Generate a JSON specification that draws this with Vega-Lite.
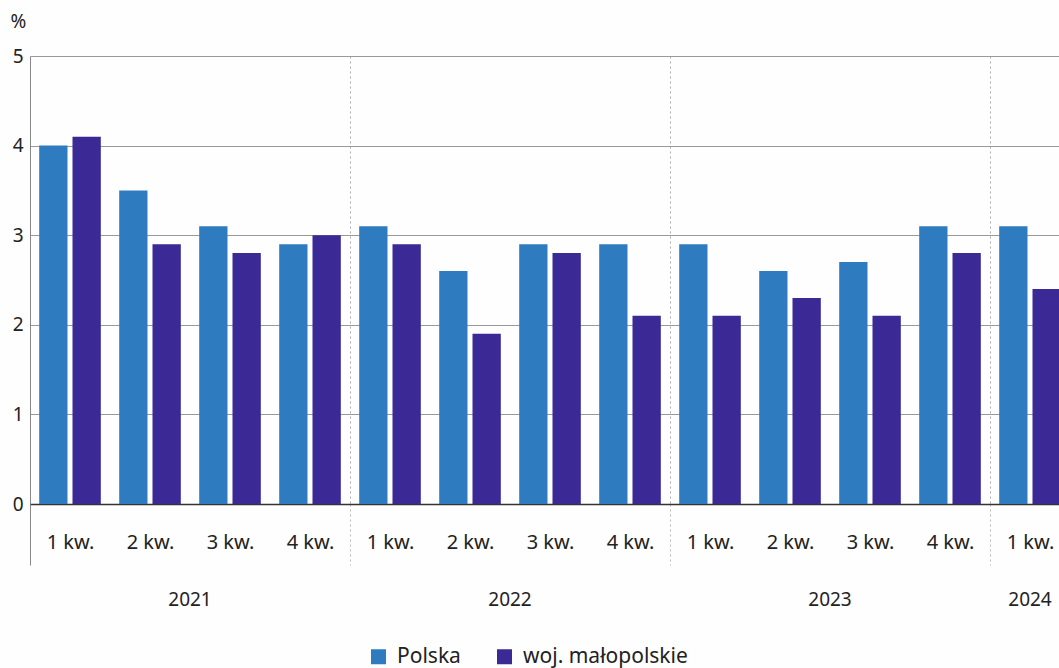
{
  "$schema": "https://vega.github.io/schema/vega-lite/v6.json",
  "autosize": {"type": "none"},
  "width": 1029,
  "height": 448,
  "padding": {"left": 30, "top": 56, "right": 0, "bottom": 164},
  "background": "#fefefe",
  "config": {"font": "Noto Sans", "view": {"stroke": null}},
  "data": {
    "values": [
      {"okres": "2021|1", "seria": "Polska", "wartosc": 4.0},
      {"okres": "2021|1", "seria": "woj. małopolskie", "wartosc": 4.1},
      {"okres": "2021|2", "seria": "Polska", "wartosc": 3.5},
      {"okres": "2021|2", "seria": "woj. małopolskie", "wartosc": 2.9},
      {"okres": "2021|3", "seria": "Polska", "wartosc": 3.1},
      {"okres": "2021|3", "seria": "woj. małopolskie", "wartosc": 2.8},
      {"okres": "2021|4", "seria": "Polska", "wartosc": 2.9},
      {"okres": "2021|4", "seria": "woj. małopolskie", "wartosc": 3.0},
      {"okres": "2022|1", "seria": "Polska", "wartosc": 3.1},
      {"okres": "2022|1", "seria": "woj. małopolskie", "wartosc": 2.9},
      {"okres": "2022|2", "seria": "Polska", "wartosc": 2.6},
      {"okres": "2022|2", "seria": "woj. małopolskie", "wartosc": 1.9},
      {"okres": "2022|3", "seria": "Polska", "wartosc": 2.9},
      {"okres": "2022|3", "seria": "woj. małopolskie", "wartosc": 2.8},
      {"okres": "2022|4", "seria": "Polska", "wartosc": 2.9},
      {"okres": "2022|4", "seria": "woj. małopolskie", "wartosc": 2.1},
      {"okres": "2023|1", "seria": "Polska", "wartosc": 2.9},
      {"okres": "2023|1", "seria": "woj. małopolskie", "wartosc": 2.1},
      {"okres": "2023|2", "seria": "Polska", "wartosc": 2.6},
      {"okres": "2023|2", "seria": "woj. małopolskie", "wartosc": 2.3},
      {"okres": "2023|3", "seria": "Polska", "wartosc": 2.7},
      {"okres": "2023|3", "seria": "woj. małopolskie", "wartosc": 2.1},
      {"okres": "2023|4", "seria": "Polska", "wartosc": 3.1},
      {"okres": "2023|4", "seria": "woj. małopolskie", "wartosc": 2.8},
      {"okres": "2024|1", "seria": "Polska", "wartosc": 3.1},
      {"okres": "2024|1", "seria": "woj. małopolskie", "wartosc": 2.4}
    ]
  },
  "layer": [
    {
      "mark": {"type": "bar"},
      "encoding": {
        "x": {
          "field": "okres",
          "type": "nominal",
          "sort": null,
          "scale": {"range": [0, 1040], "paddingInner": 0, "paddingOuter": 0},
          "axis": {
            "orient": "bottom",
            "title": null,
            "labelAngle": 0,
            "labelExpr": "datum.value ? split(datum.value, '|')[1] + ' kw.' : ''",
            "labelFontSize": 20,
            "labelColor": "#222222",
            "labelPadding": -33,
            "labelOverlap": false,
            "labelBound": false,
            "labelFlush": false,
            "tickBand": "extent",
            "tickSize": 61,
            "tickColor": {"condition": {"test": "datum.extra", "value": "#888888"}, "value": "#bbbbbb"},
            "tickDash": {"condition": {"test": "datum.extra", "value": []}, "value": [2, 3]},
            "tickOpacity": {"condition": {"test": "datum.extra || datum.value === '2021|4' || datum.value === '2022|4' || datum.value === '2023|4'", "value": 1}, "value": 0},
            "grid": true,
            "gridDash": [2, 3],
            "gridColor": "#aaaaaa",
            "gridOpacity": {"condition": {"test": "datum.value === '2021|4' || datum.value === '2022|4' || datum.value === '2023|4'", "value": 1}, "value": 0},
            "domainColor": "#333333",
            "domainWidth": 1.5
          }
        },
        "xOffset": {
          "field": "seria",
          "type": "nominal",
          "sort": ["Polska", "woj. małopolskie"],
          "scale": {"paddingInner": 0.15, "paddingOuter": 0.276}
        },
        "y": {
          "field": "wartosc",
          "type": "quantitative",
          "scale": {"domain": [0, 5]},
          "axis": {
            "title": "%",
            "titleAngle": 0,
            "titleAlign": "left",
            "titleBaseline": "middle",
            "titleX": -20,
            "titleY": -35,
            "titleFontSize": 19,
            "titleFontWeight": "normal",
            "titleColor": "#222222",
            "values": [0, 1, 2, 3, 4, 5],
            "ticks": false,
            "labelFontSize": 19,
            "labelColor": "#222222",
            "labelPadding": 7,
            "domainColor": "#888888",
            "gridColor": "#999999",
            "gridWidth": 1
          }
        },
        "color": {
          "field": "seria",
          "type": "nominal",
          "sort": ["Polska", "woj. małopolskie"],
          "scale": {"range": ["#2E7BBF", "#3B2995"]},
          "legend": {
            "title": null,
            "orient": "none",
            "legendX": 338,
            "legendY": 590,
            "direction": "horizontal",
            "symbolType": "square",
            "symbolSize": 225,
            "symbolStrokeWidth": 0,
            "symbolOpacity": 1,
            "labelFontSize": 21,
            "labelLimit": 0,
            "labelColor": "#222222",
            "columnPadding": 33,
            "labelOffset": 8
          }
        }
      }
    },
    {
      "mark": {"type": "rule", "opacity": 0},
      "encoding": {
        "x": {
          "field": "okres",
          "type": "nominal",
          "sort": null,
          "axis": {
            "orient": "bottom",
            "title": null,
            "offset": 82,
            "domain": false,
            "ticks": false,
            "grid": false,
            "labelAngle": 0,
            "labelPadding": 4,
            "labelFontSize": 19,
            "labelColor": "#222222",
            "labelOverlap": false,
            "labelBound": false,
            "labelFlush": false,
            "labelExpr": "(split(datum.value, '|')[1] === '2' && split(datum.value, '|')[0] !== '2024') || datum.value === '2024|1' ? split(datum.value, '|')[0] : ''",
            "labelOffset": {"condition": {"test": "datum.value === '2024|1'", "value": 0}, "value": 40}
          }
        }
      }
    }
  ],
  "resolve": {"axis": {"x": "independent"}}
}
